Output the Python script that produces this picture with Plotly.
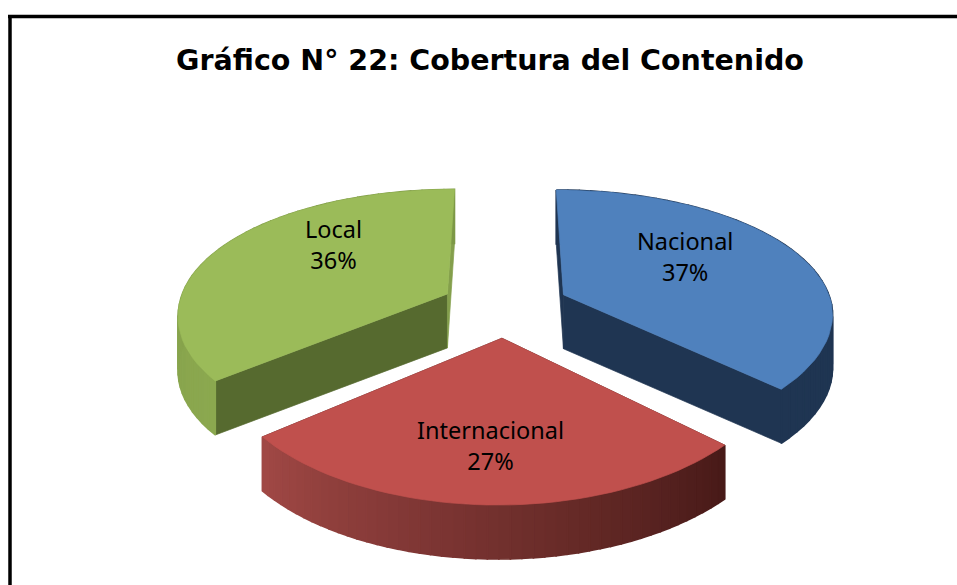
import math
import plotly.graph_objects as go

# ---- data ----
categories = ["Nacional", "Internacional", "Local"]
values = [37, 27, 36]
percent_labels = ["37%", "27%", "36%"]
title_text = "Gráfico N° 22: Cobertura del Contenido"

# ---- styles ----
top_colors = ["#4F81BD", "#C0504D", "#9BBB59"]
start_wall = ["#1F3552", "#4A1B19", "#566A2F"]
end_wall = ["#1F3552", "#4A1B19", "#849F4C"]
rim_from = [(31, 53, 82), (160, 72, 69), (139, 168, 79)]
rim_to = [(31, 53, 82), (72, 26, 24), (125, 152, 70)]
label_pixel = [(685, 256), (490, 445), (333, 244)]

# ---- projection of the tilted pie ----
CX, CY = 505, 306.6
RX, RY = 269, 126.3
KX, KY = 0.142, 0.17
SHEAR = -4
PULL = 0.24
DEPTH = 54


def project(px, py, drop=0.0):
    fx = 1 / (1 - KX * py)
    fy = 1 / (1 - KY * py)
    return CX + SHEAR * max(py, 0) + RX * px * fx, CY + RY * py * fy + drop


def disk(theta):
    a = math.radians(theta)
    return math.sin(a), -math.cos(a)


def poly(fig, pts, color, width=0.7):
    xs = [p[0] for p in pts] + [pts[0][0]]
    ys = [p[1] for p in pts] + [pts[0][1]]
    fig.add_trace(go.Scatter(x=xs, y=ys, mode="lines", fill="toself", fillcolor=color,
                             line=dict(color=color, width=width), hoverinfo="skip",
                             showlegend=False))


fig = go.Figure()
total = sum(values)
spans = []
acc = 0.0
for v in values:
    spans.append((acc, acc + v / total * 360))
    acc += v / total * 360

order = [2, 0, 1]
for i in order:
    a0, a1 = spans[i]
    mid = (a0 + a1) / 2
    mx, my = disk(mid)
    ox, oy = mx * PULL, my * PULL
    n = 48
    thetas = [a0 + (a1 - a0) * j / n for j in range(n + 1)]
    rim = [(ox + disk(t)[0], oy + disk(t)[1]) for t in thetas]
    apex_t = project(ox, oy)
    apex_b = project(ox, oy, DEPTH)
    poly(fig, [apex_t, project(*rim[0]), project(*rim[0], DEPTH), apex_b], start_wall[i])
    poly(fig, [apex_t, project(*rim[-1]), project(*rim[-1], DEPTH), apex_b], end_wall[i])
    for j in range(n):
        u = j / (n - 1)
        c = tuple(round(rim_from[i][k] + (rim_to[i][k] - rim_from[i][k]) * (u if i != 1 else 1 - u))
                  for k in range(3))
        color = "rgb(%d,%d,%d)" % c
        poly(fig, [project(*rim[j]), project(*rim[j + 1]),
                   project(*rim[j + 1], DEPTH), project(*rim[j], DEPTH)], color, width=1.6)
    poly(fig, [apex_t] + [project(*p) for p in rim], top_colors[i])

annotations = []
for name, pct, (lx, ly) in zip(categories, percent_labels, label_pixel):
    annotations.append(dict(x=lx, y=ly, xref="x", yref="y", text=name + "<br>" + pct,
                            showarrow=False, align="center",
                            font=dict(family="Noto Sans", size=23.5, color="#000000")))

fig.update_layout(
    width=957, height=585, margin=dict(l=0, r=0, t=0, b=0),
    paper_bgcolor="#FFFFFF", plot_bgcolor="#FFFFFF",
    xaxis=dict(range=[0, 957], visible=False, fixedrange=True),
    yaxis=dict(range=[585, 0], visible=False, fixedrange=True),
    title=dict(text="<b>" + title_text + "</b>", x=490 / 957, xanchor="center",
               y=1 - 60 / 585, yanchor="middle",
               font=dict(family="DejaVu Sans", size=28.5, color="#000000")),
    annotations=annotations,
    shapes=[
        dict(type="line", xref="x", yref="y", x0=8, x1=957, y0=16.5, y1=16.5,
             line=dict(color="#000000", width=3.5)),
        dict(type="line", xref="x", yref="y", x0=10, x1=10, y0=15, y1=585,
             line=dict(color="#000000", width=3.5)),
    ],
)
fig.write_html("out.html", config=dict(displayModeBar=False),
               post_script="document.body.style.margin='0';document.documentElement.style.overflow='hidden';")
